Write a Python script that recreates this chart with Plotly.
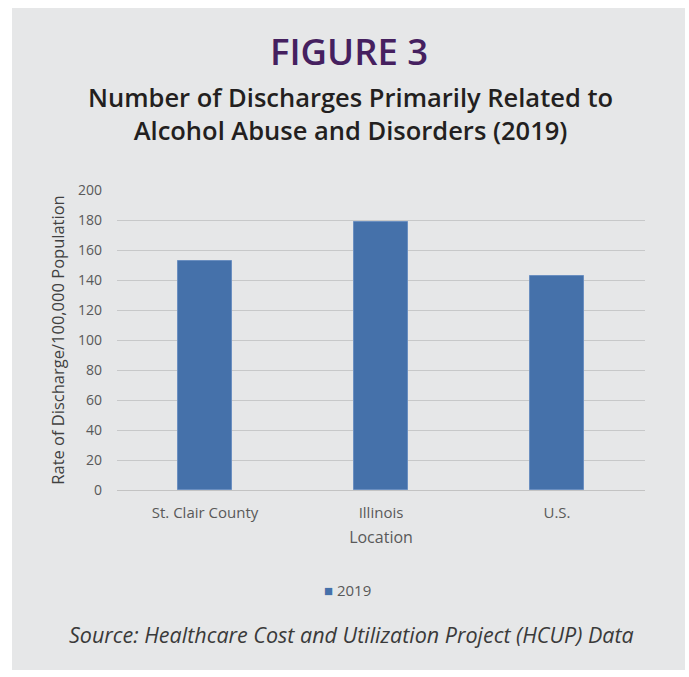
import plotly.graph_objects as go

locations = ["St. Clair County", "Illinois", "U.S."]
rates_2019 = [153, 179, 142.5]
series_name = "2019"
y_ticks = [0, 20, 40, 60, 80, 100, 120, 140, 160, 180, 200]

W, H = 689, 677
L, R, T, B = 117, 44, 190, 187
plot_h = H - T - B
bar_color = "#4571aa"


def py(pixel_y):
    # pixel row -> paper y coordinate
    return (H - B - pixel_y) / plot_h


def px(pixel_x):
    return (pixel_x - L) / (W - L - R)


fig = go.Figure()
fig.add_trace(go.Bar(
    x=locations, y=rates_2019, name=series_name,
    marker=dict(color=bar_color, line=dict(color="#6b8fc0", width=1)),
    width=0.31, showlegend=False,
))

body = "Open Sans, sans-serif"
grey_text = "#595959"

fig.update_layout(
    width=W, height=H,
    margin=dict(l=L, r=R, t=T, b=B),
    paper_bgcolor="white",
    plot_bgcolor="rgba(0,0,0,0)",
    xaxis=dict(
        tickfont=dict(family=body, size=15, color=grey_text),
        showgrid=False, showline=True, linecolor="#c3c3c3",
        linewidth=1, ticks="", ticklabelstandoff=9,
        title=dict(text="Location", font=dict(family=body, size=16, color=grey_text), standoff=10),
    ),
    yaxis=dict(
        range=[0, 200], tickvals=y_ticks,
        tickfont=dict(family=body, size=14, color=grey_text),
        showgrid=True, gridcolor="#c7c8c9", gridwidth=1, zeroline=False,
        ticks="", ticklabelstandoff=14,
        title=dict(text="Rate of Discharge/100,000 Population",
                   font=dict(family=body, size=16.5, color="#404040"), standoff=9),
    ),
    bargap=0.0,
)

# grey card behind the whole chart
fig.add_shape(type="rect", xref="paper", yref="paper", layer="below",
              x0=px(12), x1=px(685), y0=py(670), y1=py(8),
              fillcolor="#e6e7e8", line=dict(width=0))

fig.add_annotation(text="FIGURE 3", xref="paper", yref="paper",
                   x=px(349), y=py(51), xanchor="center", yanchor="middle", showarrow=False,
                   font=dict(family=body, size=36.5, color="#45205f", weight=600))
fig.add_annotation(text="Number of Discharges Primarily Related to<br>Alcohol Abuse and Disorders (2019)",
                   xref="paper", yref="paper", x=px(350), y=py(113), xanchor="center", yanchor="middle",
                   showarrow=False, align="center",
                   font=dict(family=body, size=25.5, color="#231f20", weight=600))
fig.add_annotation(text="<i>Source: Healthcare Cost and Utilization Project (HCUP) Data</i>",
                   xref="paper", yref="paper", x=px(351), y=py(634), xanchor="center", yanchor="middle",
                   showarrow=False,
                   font=dict(family=body, size=21.5, color="#3a3a3a"))
# legend: colour swatch followed by the series name
fig.add_annotation(text=f"<span style='color:{bar_color}'>■</span> {series_name}",
                   xref="paper", yref="paper", x=px(347), y=py(590), xanchor="center", yanchor="middle",
                   showarrow=False, font=dict(family=body, size=15, color=grey_text))

fig.write_html("out.html")
